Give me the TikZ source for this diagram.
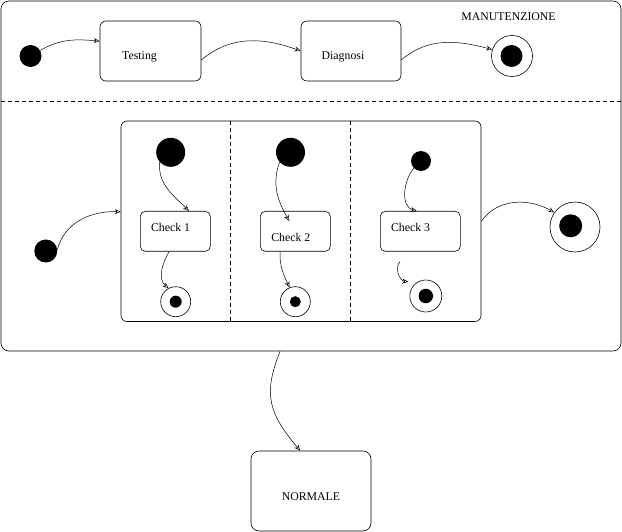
\documentclass[tikz,border=0pt]{standalone}
\usepackage{fontspec}
\setmainfont{Liberation Serif}
\usetikzlibrary{arrows.meta}
\begin{document}
\begin{tikzpicture}[x=1pt,y=1pt,
  every node/.style={font=\fontsize{11.8}{14}\selectfont},
  lbl/.style={inner sep=0pt},
  stbox/.style={draw, rounded corners=6pt, inner sep=0pt, line width=0.6pt},
  initdot/.style={circle, fill=black, inner sep=0pt},
  finring/.style={circle, draw, inner sep=0pt, line width=0.6pt},
  findot/.style={circle, fill=black, inner sep=0pt},
  tr/.style={line width=0.5pt, -{Stealth[open,length=6pt,width=5pt]}},
  sep/.style={dashed, line width=0.6pt, dash pattern=on 4pt off 3pt},
]
\useasboundingbox (0,0) rectangle (622,-532);
% outer composite state
\node[stbox, rounded corners=8pt, minimum width=620pt, minimum height=350pt] (man) at (311,-176) {};
\node[lbl] (mantxt) at (508.5,-17) {MANUTENZIONE};
\draw[sep] (man.west |- 0,-101) -- (man.east |- 0,-101);
% top region
\node[initdot, minimum size=22pt] (dot1) at (30.5,-56) {};
\node[stbox, minimum width=101pt, minimum height=60pt] (testing) at (150.5,-51) {};
\node[lbl] (testtxt) at (139.5,-57) {Testing};
\node[stbox, minimum width=100pt, minimum height=60pt] (diagnosi) at (351,-51) {};
\node[lbl] (diagtxt) at (343,-57) {Diagnosi};
\node[finring, minimum size=41pt] (fin1) at (512,-56) {};
\node[findot, minimum size=22pt] (fin1d) at (511.5,-56) {};
% inner concurrent state
\node[stbox, minimum width=360pt, minimum height=200.5pt] (inner) at (301,-221.25) {};
\draw[sep] (inner.north -| 230.5,0) -- (inner.south -| 230.5,0);
\draw[sep] (inner.north -| 350.5,0) -- (inner.south -| 350.5,0);
% region 1
\node[initdot, minimum size=29pt] (dotA) at (170.7,-152.3) {};
\node[stbox, rounded corners=5pt, minimum width=70pt, minimum height=40pt] (check1) at (175.3,-231.3) {};
\node[lbl] (c1txt) at (170.5,-227.7) {Check 1};
\node[finring, minimum size=30pt] (finA) at (175.7,-301.7) {};
\node[findot, minimum size=12pt] (finAd) at (175.7,-301.7) {};
% region 2
\node[initdot, minimum size=29pt] (dotB) at (290.5,-152.3) {};
\node[stbox, rounded corners=5pt, minimum width=70pt, minimum height=40pt] (check2) at (295.3,-231.3) {};
\node[lbl] (c2txt) at (290.8,-237) {Check 2};
\node[finring, minimum size=30pt] (finB) at (295.3,-301.7) {};
\node[findot, minimum size=11pt] (finBd) at (295.3,-301.7) {};
% region 3
\node[initdot, minimum size=20pt] (dotC) at (421,-161) {};
\node[stbox, rounded corners=5pt, minimum width=80pt, minimum height=40pt] (check3) at (420.3,-231.3) {};
\node[lbl] (c3txt) at (410.5,-227.7) {Check 3};
\node[finring, minimum size=32pt] (finC) at (425.8,-296) {};
\node[findot, minimum size=14.5pt] (finCd) at (425.8,-296) {};
% left init and right final
\node[initdot, minimum size=23pt] (dotL) at (45.8,-251) {};
\node[finring, minimum size=50pt] (finR) at (575,-227) {};
\node[findot, minimum size=23pt] (finRd) at (570.7,-225.8) {};
% NORMALE
\node[stbox, rounded corners=8pt, minimum width=120pt, minimum height=80pt] (normale) at (311,-491) {};
\node[lbl] (normtxt) at (311,-497) {NORMALE};
% transitions
\draw[tr] (dot1.30) to[out=30,in=175] (testing.169);
\draw[tr] (testing.-10) to[out=40,in=160] (diagnosi.west);
\draw[tr] (diagnosi.-10) to[out=40,in=165] (fin1.162);
\draw[tr] (dotL.8) to[out=75,in=178] (inner.177);
\draw[tr] (inner.east) to[out=55,in=150] (finR.145);
\draw[tr] (dotA.221) to[out=265,in=135] (check1.56);
\draw[tr] (check1.253) to[out=240,in=140] (finA.118);
\coordinate (b2tip) at (289.3,-221);
\draw[tr] (dotB.222) to[out=250,in=120] (b2tip);
\draw[tr] (check2.233) to[out=268,in=115] (finB.112);
\draw[tr] (dotC.225) to[out=230,in=165] (check3.100);
\coordinate (c3s) at (400,-261.7);
\coordinate (c3e) at (408.3,-281.7);
\draw[tr] (c3s) to[out=225,in=175] (c3e);
\draw[tr] (man.260) to[out=248,in=130,looseness=1.2] (normale.105);
\end{tikzpicture}
\end{document}
